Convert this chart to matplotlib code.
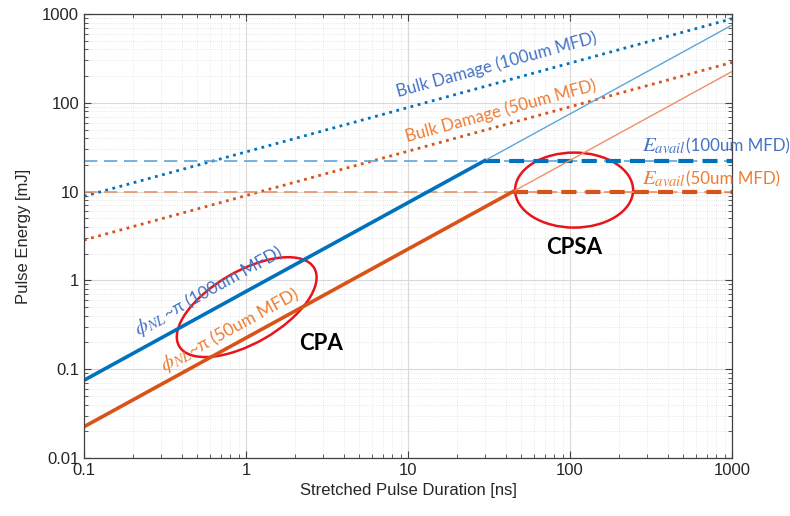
import numpy as np
import matplotlib
matplotlib.use("Agg")
import matplotlib.pyplot as plt
from matplotlib.patches import Ellipse
from matplotlib import transforms
from matplotlib.ticker import LogLocator, FuncFormatter, NullFormatter

plt.rcParams["font.family"] = ["Liberation Sans", "DejaVu Sans"]
plt.rcParams["mathtext.fontset"] = "stix"

# pulse duration range [ns]
tau_ends = [0.1, 1000]

# nonlinear phase limit (phi_NL ~ pi) energy [mJ]
phi_100 = [0.075, 750]
phi_50 = [0.0225, 225]

# bulk damage threshold energy [mJ]
bulk_100 = [8.85, 885]
bulk_50 = [2.85, 285]

# available energy from the amplifier [mJ]
e_avail_100 = 22.3
e_avail_50 = 10.0

# durations where phi limit meets available energy [ns]
knee_100 = 29.7
knee_50 = 44.4

BLUE = "#0072BD"
ORANGE = "#D95319"
LBLUE = "#5DA5DA"
LORANGE = "#EE8F66"
TXT_BLUE = "#4472C4"
TXT_ORANGE = "#ED7D31"
ANN_FONT = ["Lato", "DejaVu Sans"]

fig = plt.figure(figsize=(7.9, 5.16), dpi=100)
ax = fig.add_axes([84 / 790, 58 / 516, 648 / 790, 444 / 516])
ax.set_xscale("log")
ax.set_yscale("log")
ax.set_xlim(0.1, 1000)
ax.set_ylim(0.01, 1000)

# bulk damage lines
ax.plot(tau_ends, bulk_100, ":", color=BLUE, lw=2.0)
ax.plot(tau_ends, bulk_50, ":", color=ORANGE, lw=2.0)

# available energy, thin before the knee, thick after
ax.plot(tau_ends, [e_avail_100] * 2, "--", color=LBLUE, lw=1.2, dashes=(8, 4))
ax.plot(tau_ends, [e_avail_50] * 2, "--", color=LORANGE, lw=1.2, dashes=(8, 4))
ax.plot([knee_100, tau_ends[1]], [e_avail_100] * 2, "--", color=BLUE, lw=3.0, dashes=(3.6, 2.2))
ax.plot([knee_50, tau_ends[1]], [e_avail_50] * 2, "--", color=ORANGE, lw=3.0, dashes=(3.6, 2.2))

# phi_NL limit, thick up to the knee
ax.plot(tau_ends, phi_100, "-", color=LBLUE, lw=1.0)
ax.plot(tau_ends, phi_50, "-", color=LORANGE, lw=1.0)
ax.plot([tau_ends[0], knee_100], [phi_100[0], e_avail_100], "-", color=BLUE, lw=2.6)
ax.plot([tau_ends[0], knee_50], [phi_50[0], e_avail_50], "-", color=ORANGE, lw=2.6)

# grid and ticks in the usual MATLAB look
ax.grid(True, which="major", color="#d9d9d9", lw=0.8)
ax.grid(True, which="minor", color="#e0e0e0", lw=0.6, ls=":")
ax.set_axisbelow(True)
ax.xaxis.set_major_locator(LogLocator(base=10, numticks=10))
ax.yaxis.set_major_locator(LogLocator(base=10, numticks=10))
ax.xaxis.set_minor_locator(LogLocator(base=10, subs=np.arange(2, 10), numticks=20))
ax.yaxis.set_minor_locator(LogLocator(base=10, subs=np.arange(2, 10), numticks=20))
fmt = FuncFormatter(lambda v, p: "{:g}".format(v))
ax.xaxis.set_major_formatter(fmt)
ax.yaxis.set_major_formatter(fmt)
ax.xaxis.set_minor_formatter(NullFormatter())
ax.yaxis.set_minor_formatter(NullFormatter())
ax.tick_params(which="both", direction="in", top=True, right=True, colors="#404040",
               labelcolor="#262626", labelsize=12)
ax.tick_params(which="major", length=5, width=0.8)
ax.tick_params(which="minor", length=3, width=0.6)
for s in ax.spines.values():
    s.set_color("#404040")
    s.set_linewidth(0.9)

ax.set_xlabel("Stretched Pulse Duration [ns]", fontsize=12, color="#262626", labelpad=4)
ax.set_ylabel("Pulse Energy [mJ]", fontsize=12, color="#262626", labelpad=8)

renderer = fig.canvas.get_renderer()


def text_width(s, size):
    t = fig.text(0, 0, s, fontsize=size, family=ANN_FONT)
    w = t.get_window_extent(renderer).width
    t.remove()
    return w


# label made of a larger math symbol followed by plain text, laid along an angle
def two_part(x, y, sym, rest, color, angle=0.0, sym_size=15, rest_size=12.5,
             centred=True, drop=4.5):
    ws = text_width(sym, sym_size)
    wr = text_width(rest, rest_size)
    a = np.radians(angle)
    ux, uy = np.cos(a), np.sin(a)
    start = -(ws + wr) / 2 if centred else 0.0
    # push the baseline down so the line of text sits centred on (x, y)
    px, py = drop * np.sin(a), -drop * np.cos(a)
    for s, size, off in [(sym, sym_size, start), (rest, rest_size, start + ws)]:
        tr = transforms.offset_copy(ax.transData, fig, x=off * ux + px, y=off * uy + py,
                                    units="dots")
        ax.text(x, y, s, transform=tr, fontsize=size, family=ANN_FONT, color=color,
                rotation=angle, rotation_mode="anchor", ha="left", va="baseline",
                clip_on=False)


ann = dict(family=ANN_FONT, fontsize=12.2, rotation_mode="anchor",
           ha="center", va="center")
ax.text(35.4, 267, "Bulk Damage (100um MFD)", color=TXT_BLUE, rotation=15.3, **ann)
ax.text(37.5, 81, "Bulk Damage (50um MFD)", color=TXT_ORANGE, rotation=15.3, **ann)

two_part(0.59, 0.74, r"$\phi_{NL}$", "~π (100um MFD)", TXT_BLUE, angle=28.7)
two_part(0.80, 0.27, r"$\phi_{NL}$", "~π (50um MFD)", TXT_ORANGE, angle=28.7)

two_part(278, 31.8, r"$E_{avail}$", "(100um MFD)", TXT_BLUE, centred=False, rest_size=12.2)
two_part(278, 13.5, r"$E_{avail}$", "(50um MFD)", TXT_ORANGE, centred=False, rest_size=12.2)

bold = dict(family=ANN_FONT, fontsize=16, fontweight="bold",
            ha="center", va="center", color="black")
ax.text(2.9, 0.197, "CPA", **bold)
ax.text(106, 2.32, "CPSA", **bold)


# ellipses sized in inches, centred on a data point
def ring(xc, yc, w, h, angle):
    tr = fig.dpi_scale_trans + transforms.ScaledTranslation(xc, yc, ax.transData)
    ax.add_patch(Ellipse((0, 0), w, h, angle=angle, transform=tr, fill=False,
                         ec="#E8141B", lw=1.8, clip_on=False))


ring(1.01, 0.50, 1.56, 0.72, 30)
ring(106, 10.4, 1.18, 0.75, 0)

fig.savefig("out.png", dpi=100)
